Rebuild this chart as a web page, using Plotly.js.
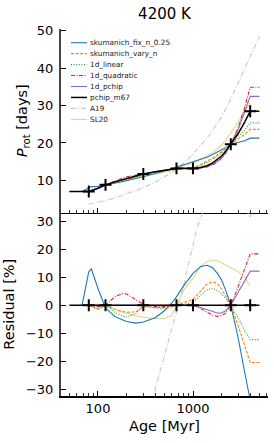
<!DOCTYPE html>
<html><head><meta charset="utf-8">
<script src="https://cdn.plot.ly/plotly-3.0.1.min.js"></script>
<style>html,body{margin:0;padding:0;background:#fff}#chart{width:274px;height:443px}</style>
</head><body><div id="chart"></div>
<script>
// ---- cluster data (Myr, days) ----
const dataAges  = [80, 120, 300, 670, 1000, 2500, 4000];
const dataProt  = [7.0, 8.8, 11.7, 13.2, 13.2, 19.65, 28.5];
const dataResid = [0, 0, 0, 0, 0, 0, 0];

// ---- reference curve pchip_m67 ----
const refAges  = [50, 80, 100, 120, 150, 200, 250, 300, 400, 500, 670, 800, 1000, 1200, 1400, 1600, 1800, 2000, 2200, 2500, 3000, 3500, 4000, 5000];
const refProt  = [7.0, 7.0, 7.9, 8.8, 9.6, 10.5, 11.2, 11.7, 12.3, 12.75, 13.2, 13.2, 13.2, 13.45, 13.9, 14.6, 15.5, 16.5, 17.7, 19.65, 22.6, 25.6, 28.5, 28.5];
const refResid = [0, 0, 0, 0, 0, 0, 0, 0, 0, 0, 0, 0, 0, 0, 0, 0, 0, 0, 0, 0, 0, 0, 0, 0];

// ---- model curves on a common age grid ----
const ageGrid = [68, 80, 85, 100, 120, 150, 180, 200, 250, 300, 400, 500, 600, 670, 800, 1000, 1200, 1400, 1600, 1800, 2000, 2200, 2500, 3000, 3500, 4000, 4500, 5000];

const skFixProt   = [7.0, 7.95, 8.33, 8.4, 8.71, 9.23, 9.65, 9.92, 10.53, 11.04, 11.77, 12.5, 13.16, 13.6, 14.19, 14.9, 15.6, 16.2, 16.9, 17.5, 18.1, 18.7, 19.65, 20.2, 20.6, 21.3, 21.3, 21.3];
const skFixResid  = [0, 12, 13, 6, -1, -4, -5.2, -5.8, -6.4, -6, -4.5, -2, 0.8, 3, 7, 11.4, 13.8, 14.3, 13.5, 11.5, 9, 5.5, 0, -12, -24, -34, -34, -34];

const skVaryProt  = [null, 7.0, 7.21, 7.78, 8.8, 9.46, 9.92, 10.24, 10.94, 11.64, 12.2, 12.65, 13.01, 13.2, 13.33, 13.47, 14.16, 15.03, 15.94, 16.81, 17.52, 18.34, 19.65, 21.02, 22.36, 23.65, 23.65, 23.65];
const skVaryResid = [null, 0, -0.5, -1.5, 0, -1.5, -2.3, -2.5, -2.4, -0.5, -0.8, -0.8, -0.3, 0, 1, 2, 5, 7.5, 8.4, 7.8, 5.8, 3.5, 0, -7.5, -14.5, -20.5, -20.5, -20.5];

const linProt     = [null, 7.0, 7.22, 7.81, 8.8, 9.37, 9.78, 10.08, 10.87, 11.7, 12.18, 12.6, 12.99, 13.2, 13.24, 13.33, 13.94, 14.71, 15.53, 16.37, 17.19, 18.15, 19.65, 21.63, 23.49, 25.38, 25.38, 25.38];
const linResid    = [null, 0, -0.4, -1.2, 0, -2.5, -3.8, -4.2, -3, 0, -1, -1.2, -0.5, 0, 0.3, 1, 3.5, 5.5, 6, 5.3, 4, 2.5, 0, -4.5, -9, -12.3, -12.3, -12.3];

const quadProt    = [null, 7.0, 7.24, 7.86, 8.8, 9.9, 10.59, 10.94, 11.43, 11.74, 12.24, 12.69, 13.02, 13.2, 13.2, 13.2, 13.29, 13.56, 14.11, 14.9, 15.9, 17.22, 19.65, 24.25, 29.53, 34.93, 34.93, 34.93];
const quadResid   = [null, 0, -0.2, -0.5, 0, 3, 4.2, 4, 2, 0.3, -0.5, -0.5, -0.2, 0, 0, 0, -1.2, -2.5, -3.5, -4, -3.8, -2.8, 0, 6.8, 13.3, 18.4, 18.4, 18.4];

const pchipProt   = [null, 7.0, 7.25, 7.9, 8.8, 9.6, 10.15, 10.5, 11.2, 11.7, 12.3, 12.75, 13.05, 13.2, 13.2, 13.2, 13.34, 13.68, 14.27, 15.08, 16.05, 17.35, 19.65, 23.69, 28.1, 32.46, 32.46, 32.46];
const pchipResid  = [null, 0, 0, 0, 0, 0, 0, 0, 0, 0, 0, 0, 0, 0, 0, 0, -0.8, -1.6, -2.3, -2.8, -2.8, -2, 0, 4.6, 8.9, 12.2, 12.2, 12.2];

const sl20Prot    = [null, null, null, null, 8.8, 9.46, 9.9, 10.21, 10.79, 11.22, 11.74, 12.17, 12.61, 13.13, 13.97, 14.59, 15.64, 16.45, 17.42, 18.45, 19.46, 20.7, 22.72, 25.68, 28.44, 30.65, null, null];
const sl20Resid   = [null, null, null, null, 0, -1.5, -2.5, -2.8, -3.8, -4.3, -4.8, -4.8, -3.5, -0.5, 5.5, 9.5, 14, 15.5, 16.2, 16, 15.2, 14.5, 13.5, 12, 10, 7, null, null];

// ---- A19 relation ----
const a19Ages      = [80, 100, 150, 200, 300, 400, 500, 700, 1000, 1500, 2000, 2500, 3000, 3500, 4000, 4500, 5000];
const a19Prot      = [3.6, 4.1, 5.3, 6.4, 8.0, 9.5, 10.9, 13.3, 17.0, 22.2, 27.0, 31.8, 36.2, 39.7, 43.2, 46.0, 48.5];
const a19ResidAges = [350, 400, 500, 600, 670, 800, 900, 1000, 1100, 1200, 1300, 1500, 2000, 2500, 3000, 3500, 3900, 4000, 4500, 5000];
const a19Resid     = [-45, -30, -18, -8, -2.3, 7.2, 15, 22, 27.5, 31, 34.5, 38, 40, 37.5, 36.5, 35, 32, 31.6, 37, 41];

// ---- ticks ----
const xTickVals  = [100, 1000];
const xTickText  = ['100', '1000'];
const xMinorVals = [40, 50, 60, 70, 80, 90, 200, 300, 400, 500, 600, 700, 800, 900, 2000, 3000, 4000, 5000, 6000];
const yTopTicks  = [10, 20, 30, 40, 50];
const yBotTicks  = [-30, -20, -10, 0, 10, 20, 30];

// ---- series styles ----
const series = [
  {name:'skumanich_fix_n_0.25', x:ageGrid, top:skFixProt, bot:skFixResid, xb:ageGrid, color:'#1f77b4', dash:'solid', w:1.1},
  {name:'skumanich_vary_n', x:ageGrid, top:skVaryProt, bot:skVaryResid, xb:ageGrid, color:'#ff7f0e', dash:'3px,1.6px', w:1.1},
  {name:'1d_linear', x:ageGrid, top:linProt, bot:linResid, xb:ageGrid, color:'#2ca02c', dash:'1px,1.6px', w:1.1},
  {name:'1d_quadratic', x:ageGrid, top:quadProt, bot:quadResid, xb:ageGrid, color:'#d62728', dash:'4px,1.5px,1px,1.5px', w:1.1},
  {name:'1d_pchip', x:ageGrid, top:pchipProt, bot:pchipResid, xb:ageGrid, color:'#9467bd', dash:'solid', w:1.1},
  {name:'pchip_m67', x:refAges, top:refProt, bot:refResid, xb:refAges, color:'#000000', dash:'solid', w:1.5},
  {name:'A19', x:a19Ages, top:a19Prot, bot:a19Resid, xb:a19ResidAges, color:'#c7c7c7', dash:'5px,2px,1px,2px', w:1.1},
  {name:'SL20', x:ageGrid, top:sl20Prot, bot:sl20Resid, xb:ageGrid, color:'#dbdb8d', dash:'solid', w:1.1}
];
const drawOrder = [6, 7, 0, 1, 2, 3, 4, 5];

const traces = [];
drawOrder.forEach(i => {
  const s = series[i];
  traces.push({x:s.x, y:s.top, xaxis:'x', yaxis:'y', mode:'lines', name:s.name,
    line:{color:s.color, width:s.w, dash:s.dash}, hoverinfo:'skip'});
  traces.push({x:s.xb, y:s.bot, xaxis:'x2', yaxis:'y2', mode:'lines', name:s.name,
    line:{color:s.color, width:s.w, dash:s.dash}, hoverinfo:'skip', showlegend:false});
});
const crossMarker = {symbol:'cross-thin', size:8.5, color:'#000', line:{color:'#000', width:2}};
traces.push({x:dataAges, y:dataProt, xaxis:'x', yaxis:'y', mode:'markers', marker:crossMarker, hoverinfo:'skip'});
traces.push({x:dataAges, y:dataResid, xaxis:'x2', yaxis:'y2', mode:'markers', marker:crossMarker, hoverinfo:'skip'});

// ---- geometry (pixels) ----
const W = 274, H = 443, ML = 61, MR = 6, MT = 29, MB = 47;
const PW = W - ML - MR, PH = H - MT - MB;
const px2x = p => (p - ML) / PW;
const px2y = p => (H - MB - p) / PH;

const font = 'DejaVu Sans, sans-serif';
const xBase = {type:'log', range:[Math.log10(40.8), Math.log10(6157)], tickmode:'array', tickvals:xTickVals, ticktext:xTickText,
  ticks:'inside', ticklen:5, tickwidth:1, tickcolor:'#000', showgrid:false, zeroline:false,
  showline:true, linecolor:'#000', linewidth:1.5,
  minor:{tickmode:'array', tickvals:xMinorVals, ticks:'inside', ticklen:3, tickwidth:0.8, tickcolor:'#000', showgrid:false},
  tickfont:{family:font, size:13, color:'#000'}};
const yBase = {ticks:'inside', ticklen:5, tickwidth:1, tickcolor:'#000', showgrid:false, zeroline:false,
  showline:true, linecolor:'#444', linewidth:2, tickmode:'array', ticklabelstandoff:3,
  tickfont:{family:font, size:13, color:'#000'}};

// manual legend
const shapes = [], annotations = [];
const legTop = 42.7, legStep = 10.95;
series.forEach((s, i) => {
  const yy = px2y(legTop + i * legStep);
  shapes.push({type:'line', xref:'paper', yref:'paper', x0:px2x(71), x1:px2x(87), y0:yy, y1:yy,
    line:{color:s.color, width:s.w, dash:s.dash}});
  annotations.push({xref:'paper', yref:'paper', x:px2x(87.5), y:yy, xanchor:'left', yanchor:'middle',
    text:s.name, showarrow:false, font:{family:font, size:7.3, color:'#222'}});
});

const layout = {
  width:W, height:H, margin:{l:ML, r:MR, t:MT, b:MB, pad:0},
  paper_bgcolor:'#fff', plot_bgcolor:'#fff', showlegend:false,
  font:{family:font, size:13, color:'#000'},
  title:{text:'4200 K', x:0.5, xref:'paper', xanchor:'center', y:1 - 14/H, yref:'container', yanchor:'middle',
    font:{family:font, size:15, color:'#000'}},
  xaxis:Object.assign({}, xBase, {anchor:'y', showticklabels:false}),
  xaxis2:Object.assign({}, xBase, {anchor:'y2', matches:'x',
    title:{text:'Age [Myr]', font:{family:font, size:14.5, color:'#000'}, standoff:6}}),
  yaxis:Object.assign({}, yBase, {domain:[0.5, 1], anchor:'x', range:[1.4, 50.5], tickvals:yTopTicks,
    title:{text:'<i>P</i><sub>rot</sub> [days]', font:{family:font, size:14.5, color:'#000'}, standoff:6}}),
  yaxis2:Object.assign({}, yBase, {domain:[0, 0.5], anchor:'x2', range:[-32.5, 33.2], tickvals:yBotTicks,
    title:{text:'Residual [%]', font:{family:font, size:14.5, color:'#000'}, standoff:8}}),
  shapes:shapes, annotations:annotations
};

Plotly.newPlot('chart', traces, layout, {displayModeBar:false, staticPlot:true});
</script>
</body></html>
